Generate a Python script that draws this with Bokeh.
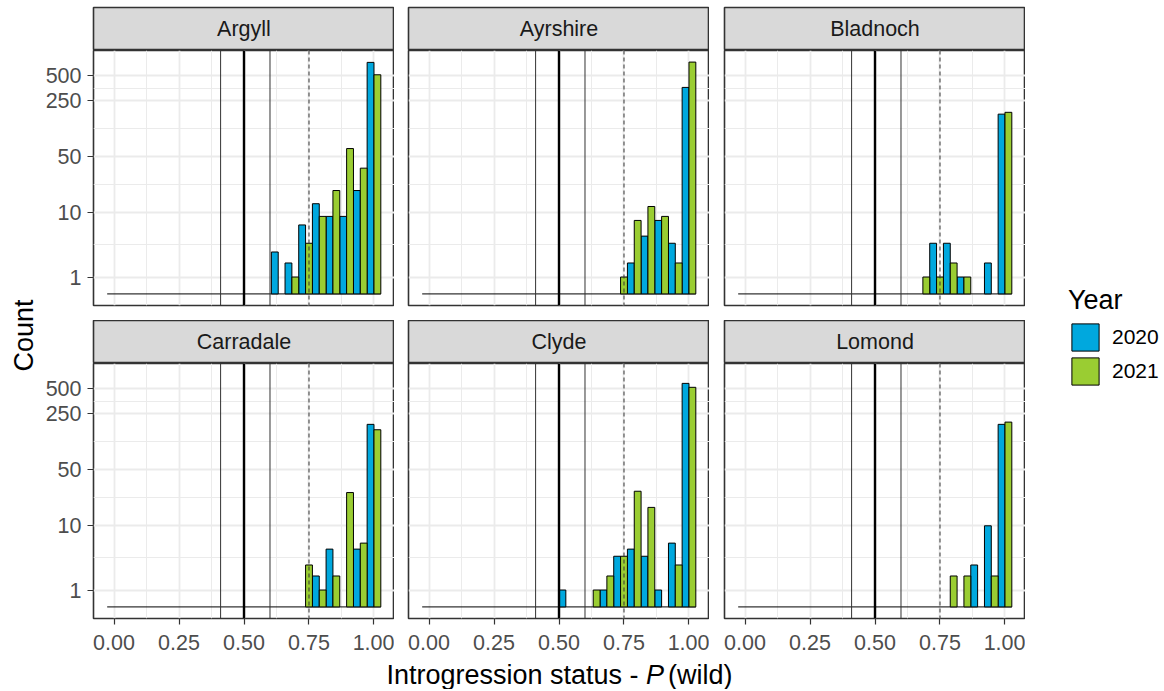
import numpy as np
from bokeh.plotting import figure
from bokeh.models import (Range1d, FixedTicker, LinearAxis, Grid, Span, Legend,
                          LegendItem, ColumnDataSource, NumeralTickFormatter)
from bokeh.layouts import row, column
from bokeh.embed import file_html
from bokeh.resources import INLINE
from bokeh.core.properties import value

# ---------------- data ----------------
sites = ["Argyll", "Ayrshire", "Bladnoch", "Carradale", "Clyde", "Lomond"]
years = ["2020", "2021"]

# histogram bin centres (20 bins over 0..1)
bin_centres = [0.0, 0.052632, 0.105263, 0.157895, 0.210526, 0.263158, 0.315789,
               0.368421, 0.421053, 0.473684, 0.526316, 0.578947, 0.631579,
               0.684211, 0.736842, 0.789474, 0.842105, 0.894737, 0.947368, 1.0]

argyll_2020    = [0, 0, 0, 0, 0, 0, 0, 0, 0, 0, 0, 0, 3, 2, 7, 13, 9, 9, 19, 735]
argyll_2021    = [0, 0, 0, 0, 0, 0, 0, 0, 0, 0, 0, 0, 0, 1, 4, 9, 19, 63, 36, 516]
ayrshire_2020  = [0, 0, 0, 0, 0, 0, 0, 0, 0, 0, 0, 0, 0, 0, 0, 2, 5, 8, 4, 360]
ayrshire_2021  = [0, 0, 0, 0, 0, 0, 0, 0, 0, 0, 0, 0, 0, 0, 1, 8, 12, 9, 2, 741]
bladnoch_2020  = [0, 0, 0, 0, 0, 0, 0, 0, 0, 0, 0, 0, 0, 0, 4, 4, 1, 0, 2, 168]
bladnoch_2021  = [0, 0, 0, 0, 0, 0, 0, 0, 0, 0, 0, 0, 0, 1, 1, 2, 1, 0, 0, 177]
carradale_2020 = [0, 0, 0, 0, 0, 0, 0, 0, 0, 0, 0, 0, 0, 0, 0, 2, 5, 0, 5, 182]
carradale_2021 = [0, 0, 0, 0, 0, 0, 0, 0, 0, 0, 0, 0, 0, 0, 3, 1, 2, 26, 6, 156]
clyde_2020     = [0, 0, 0, 0, 0, 0, 0, 0, 0, 0, 1, 0, 0, 1, 4, 5, 4, 1, 6, 585]
clyde_2021     = [0, 0, 0, 0, 0, 0, 0, 0, 0, 0, 0, 0, 1, 2, 4, 27, 17, 0, 3, 523]
lomond_2020    = [0, 0, 0, 0, 0, 0, 0, 0, 0, 0, 0, 0, 0, 0, 0, 0, 0, 3, 10, 182]
lomond_2021    = [0, 0, 0, 0, 0, 0, 0, 0, 0, 0, 0, 0, 0, 0, 0, 2, 2, 0, 2, 194]

counts = {
    "Argyll": (argyll_2020, argyll_2021),
    "Ayrshire": (ayrshire_2020, ayrshire_2021),
    "Bladnoch": (bladnoch_2020, bladnoch_2021),
    "Carradale": (carradale_2020, carradale_2021),
    "Clyde": (clyde_2020, clyde_2021),
    "Lomond": (lomond_2020, lomond_2021),
}

x_breaks = [0.0, 0.25, 0.5, 0.75, 1.0]
count_breaks = [1, 10, 50, 250, 500]
count_labels = ["1", "10", "50", "250", "500"]
hybrid_bounds = [0.41, 0.6]
mid_line = [0.5]
wild_threshold = [0.75]
year_colors = {"2020": "#00A8DE", "2021": "#9ACD32"}

FONT = value("Liberation Sans")

# ---------------- scales ----------------
def plog(v):
    # pseudo-log (base 10) transform used for the count axis
    return np.arcsinh(np.asarray(v, dtype=float) / 2.0) / np.log(10.0)

bw = bin_centres[1] - bin_centres[0]
lo_edge = bin_centres[0] - bw / 2
hi_edge = bin_centres[-1] + bw / 2
xpad = 0.05 * (hi_edge - lo_edge)
XR = (lo_edge - xpad, hi_edge + xpad)
ymax = max(float(plog(c).max()) for pair in counts.values() for c in pair)
ypad = 0.05 * ymax
YR = (-ypad, ymax + ypad)

y_major = [float(t) for t in plog(count_breaks)]
y_minor = [(a + b) / 2 for a, b in zip(y_major[:-1], y_major[1:])]
x_minor = [(a + b) / 2 for a, b in zip(x_breaks[:-1], x_breaks[1:])]

# ---------------- layout constants ----------------
TOP = 7
FW, FH, SH = 301, 255, 43
GAP_V = 15
COUNT_W = 39
LEFT = [54, 14, 15]
BOTTOM_AX = 42
LEG_W = 137
COL_H = TOP + SH + FH + GAP_V + SH + FH + BOTTOM_AX
TOTAL_W = COUNT_W + sum(LEFT) + 3 * FW + LEG_W
XT_H = 29


def bare_fig(width, height, xr, yr, left=0, right=0, top=0, bottom=0):
    f = figure(width=width, height=height, x_range=Range1d(*xr), y_range=Range1d(*yr),
               x_axis_location=None, y_axis_location=None, toolbar_location=None,
               output_backend="svg", min_border_left=left, min_border_right=right,
               min_border_top=top, min_border_bottom=bottom)
    f.grid.visible = False
    f.outline_line_color = None
    return f


def make_strip(name, left, top):
    s = bare_fig(left + FW, SH + top, (0, 1), (0, 1), left=left, top=top)
    s.background_fill_color = "#D9D9D9"
    s.outline_line_color = "#333333"
    s.outline_line_width = 1.6
    s.text(x=[0.5], y=[0.5], text=[name], text_align="center", text_baseline="middle",
           text_font=FONT, text_font_size="21.5px", text_color="#1A1A1A")
    return s


def style_axis(ax, standoff):
    ax.axis_line_color = None
    ax.major_tick_line_color = "#333333"
    ax.major_tick_line_width = 1.2
    ax.major_tick_out = 6
    ax.major_tick_in = 0
    ax.minor_tick_line_color = None
    ax.major_label_text_font = "Liberation Sans"
    ax.major_label_text_font_size = "21.5px"
    ax.major_label_text_color = "#4D4D4D"
    ax.major_label_standoff = standoff


def make_panel(site, col, r):
    left = LEFT[col]
    bottom = GAP_V if r == 0 else BOTTOM_AX
    p = bare_fig(left + FW, FH + bottom, XR, YR, left=left, bottom=bottom)
    p.outline_line_color = "#333333"
    p.outline_line_width = 1.6
    p.add_layout(Grid(dimension=0, ticker=FixedTicker(ticks=x_breaks, minor_ticks=x_minor),
                      grid_line_color="#EBEBEB", grid_line_width=1.8,
                      minor_grid_line_color="#EBEBEB", minor_grid_line_width=1.0))
    p.add_layout(Grid(dimension=1, ticker=FixedTicker(ticks=y_major, minor_ticks=y_minor),
                      grid_line_color="#EBEBEB", grid_line_width=1.8,
                      minor_grid_line_color="#EBEBEB", minor_grid_line_width=1.0))

    # zero-count bins appear as a baseline across the whole histogram range
    p.segment(x0=[lo_edge], y0=[float(plog(0))], x1=[hi_edge], y1=[float(plog(0))],
              line_color="black", line_width=1)

    centres = np.array(bin_centres)
    for yi, yr_ in enumerate(years):
        c = np.array(counts[site][yi])
        m = c > 0
        offs = -bw / 4 if yi == 0 else bw / 4
        src = ColumnDataSource(dict(x=centres[m] + offs, top=plog(c[m])))
        p.vbar(x="x", top="top", bottom=0, width=bw / 2, source=src,
               fill_color=year_colors[yr_], line_color="black", line_width=1)

    for v in hybrid_bounds:
        p.add_layout(Span(location=v, dimension="height", line_color="#333333", line_width=1))
    for v in mid_line:
        p.add_layout(Span(location=v, dimension="height", line_color="black", line_width=2.4))
    for v in wild_threshold:
        p.add_layout(Span(location=v, dimension="height", line_color="#333333",
                          line_width=1, line_dash="4 3"))

    if col == 0:
        ya = LinearAxis(ticker=FixedTicker(ticks=y_major),
                        major_label_overrides={t: lab for t, lab in zip(y_major, count_labels)})
        style_axis(ya, 6)
        p.add_layout(ya, "left")
    if r == 1:
        xa = LinearAxis(ticker=FixedTicker(ticks=x_breaks),
                        formatter=NumeralTickFormatter(format="0.00"))
        style_axis(xa, 10)
        p.add_layout(xa, "below")
    return p


cols = []
for col in range(3):
    items = []
    for r in range(2):
        site = sites[r * 3 + col]
        items += [make_strip(site, LEFT[col], TOP if r == 0 else 0), make_panel(site, col, r)]
    cols.append(column(*items))

# y-axis title
cf = bare_fig(COUNT_W, COL_H, (0, COUNT_W), (0, COL_H))
cf.text(x=[23], y=[COL_H - 335], text=["Count"], angle=np.pi / 2, text_align="center",
        text_baseline="middle", text_font=FONT, text_font_size="27px", text_color="black")

# legend (proxy bars lie outside this figure's ranges; only their legend keys show)
lf = bare_fig(LEG_W, COL_H, (0, 1), (0, 1))
rends = []
for yr_ in years:
    rends.append(lf.vbar(x=[-5.0], top=[-5.0], bottom=-6.0, width=0.5,
                         fill_color=year_colors[yr_], line_color="black", line_width=1))
leg = Legend(items=[LegendItem(label=yr_, renderers=[rr]) for yr_, rr in zip(years, rends)],
             title="Year", location=(43, 272), orientation="vertical")
leg.title_text_font = "Liberation Sans"
leg.title_text_font_size = "27px"
leg.title_text_font_style = "normal"
leg.title_text_color = "black"
leg.title_standoff = 4
leg.label_text_font = "Liberation Sans"
leg.label_text_font_size = "21px"
leg.label_text_color = "black"
leg.label_standoff = 10
leg.glyph_width = 34
leg.glyph_height = 34
leg.label_height = 34
leg.spacing = -2
leg.padding = 0
leg.margin = 0
leg.border_line_color = None
leg.background_fill_alpha = 0
lf.add_layout(leg)

# x-axis title (italic P)
xt = bare_fig(TOTAL_W, XT_H, (0, TOTAL_W), (0, XT_H))
centre = COUNT_W + LEFT[0] + (3 * FW + LEFT[1] + LEFT[2]) / 2
fs = 27
w1 = 9.615 * fs
wP = 0.667 * fs
w2 = 2.388 * fs
gap = 4
x0 = centre - (w1 + wP + gap + w2) / 2
ymid = XT_H - 14
xt.text(x=[x0], y=[ymid], text=["Introgression status - "], text_align="left",
        text_baseline="middle", text_font=FONT, text_font_size="27px", text_color="black")
xt.text(x=[x0 + w1], y=[ymid], text=["P"], text_align="left", text_baseline="middle",
        text_font=FONT, text_font_size="27px", text_font_style="italic", text_color="black")
xt.text(x=[x0 + w1 + wP + gap], y=[ymid], text=["(wild)"], text_align="left",
        text_baseline="middle", text_font=FONT, text_font_size="27px", text_color="black")

layout = column(row(cf, *cols, lf), xt)
open("out.html", "w").write(file_html(layout, INLINE))
